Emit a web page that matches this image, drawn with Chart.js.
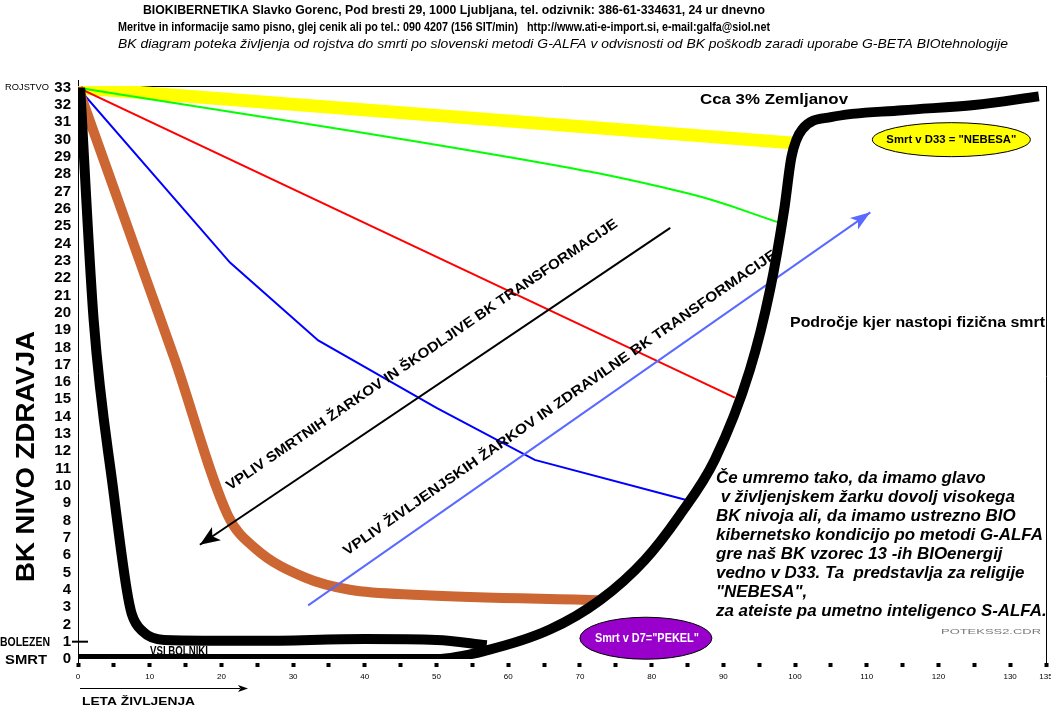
<!DOCTYPE html>
<html>
<head>
<meta charset="utf-8">
<script src="https://cdn.jsdelivr.net/npm/chart.js@4.4.1/dist/chart.umd.min.js"></script>
<style>
  html, body { margin: 0; padding: 0; background: #fff; overflow: hidden; }
  #wrap { position: relative; width: 1051px; height: 708px; }
</style>
</head>
<body>
<div id="wrap"><canvas id="bkChart" width="1051" height="708"></canvas></div>
<script>
// BK diagram (x = leta življenja, y = BK nivo)
const levelTicks = Array.from({length: 34}, (_, i) => i);

const yellowYears = [0, 100];
const yellowLevels = [33, 29.8];

const greenYears = [0, 60, 85, 98.6];
const greenLevels = [33, 29, 26.9, 25.1];

const redYears = [0, 91.6];
const redLevels = [33, 15.1];

const blueYears = [0, 21.2, 33.5, 50, 63.7, 84.7];
const blueLevels = [33, 22.9, 18.4, 14.5, 11.5, 9.2];

const brownYears = [0, 9.8, 13.5, 20.9, 24.7, 31.7, 37.9, 47.7, 72.8];
const brownLevels = [33, 21.6, 17.3, 8.3, 6.4, 4.7, 4.0, 3.7, 3.4];

// "VSI BOLNIKI" curve
const sickYears = [0.3, 2.2, 5, 6.8, 7.5, 9, 12, 25, 40, 50, 57];
const sickLevels = [33, 19.5, 9.5, 4, 2.6, 1.6, 1.1, 1.05, 1.15, 1.1, 0.8];

// fizična smrt curve
const deathYears = [0, 50, 57, 65.8, 72.8, 79, 83.9, 88.8, 93.7, 96.5, 98.5, 99.5, 101, 105, 115, 125, 134];
const deathLevels = [0, 0, 0.5, 1.7, 3.4, 5.7, 8.3, 11.5, 16.7, 21.3, 26, 29, 30.6, 31.3, 31.7, 32, 32.5];

// arrows (start -> head)
const deathRayYears = [82.6, 17];
const deathRayLevels = [24.9, 6.6];
const lifeRayYears = [32.1, 110.5];
const lifeRayLevels = [3.1, 25.8];

const toPoints = (xs, ys) => xs.map((x, i) => ({x: x, y: ys[i]}));

const FONT = "'Liberation Sans', Arial, sans-serif";

const paragraph = [
  'Če umremo tako, da imamo glavo',
  ' v življenjskem žarku dovolj visokega',
  'BK nivoja ali, da imamo ustrezno BIO',
  'kibernetsko kondicijo po metodi G-ALFA',
  'gre naš BK vzorec 13 -ih BIOenergij',
  'vedno v D33. Ta  predstavlja za religije',
  '"NEBESA",',
  'za ateiste pa umetno inteligenco S-ALFA.'
];

// draw text stretched/squeezed to an exact width
function fitText(ctx, s, x, y, w, font, color, baseline) {
  ctx.save();
  ctx.font = font;
  ctx.fillStyle = color || '#000';
  ctx.textBaseline = baseline || 'middle';
  ctx.textAlign = 'left';
  const nat = ctx.measureText(s).width;
  ctx.translate(x, y);
  ctx.scale(w / nat, 1);
  ctx.fillText(s, 0, 0);
  ctx.restore();
}

function arrowHead(ctx, x1, y1, x2, y2, len, half, color) {
  const a = Math.atan2(y2 - y1, x2 - x1);
  ctx.save();
  ctx.fillStyle = color;
  ctx.translate(x2, y2);
  ctx.rotate(a);
  ctx.beginPath();
  ctx.moveTo(0, 0);
  ctx.lineTo(-len, -half);
  ctx.lineTo(-len * 0.75, 0);
  ctx.lineTo(-len, half);
  ctx.closePath();
  ctx.fill();
  ctx.restore();
}

const deco = {
  id: 'deco',
  beforeDatasetsDraw(chart) {
    const {ctx, chartArea: a} = chart;
    ctx.save();
    ctx.strokeStyle = '#000';
    ctx.lineWidth = 1;
    ctx.beginPath();
    ctx.moveTo(a.left + 0.5, a.top - 6); ctx.lineTo(a.left + 0.5, a.bottom + 8);
    ctx.moveTo(a.left, a.top + 0.5); ctx.lineTo(a.right + 0.5, a.top + 0.5);
    ctx.moveTo(a.right + 0.5, a.top); ctx.lineTo(a.right + 0.5, a.bottom + 8);
    ctx.stroke();
    ctx.restore();
  },
  afterDatasetsDraw(chart) {
    const {ctx} = chart;
    const xs = chart.scales.x, ys = chart.scales.y;
    const px = v => xs.getPixelForValue(v), py = v => ys.getPixelForValue(v);

    // arrow heads
    arrowHead(ctx, px(deathRayYears[0]), py(deathRayLevels[0]), px(deathRayYears[1]), py(deathRayLevels[1]), 20, 8, '#000');
    arrowHead(ctx, px(lifeRayYears[0]), py(lifeRayLevels[0]), px(lifeRayYears[1]), py(lifeRayLevels[1]), 20, 7, '#5a6aff');

    // rotated ray labels
    ctx.save();
    ctx.translate(422, 355);
    ctx.rotate(-34.3 * Math.PI / 180);
    fitText(ctx, 'VPLIV SMRTNIH ŽARKOV IN ŠKODLJIVE BK TRANSFORMACIJE', -235, 0, 470, 'bold 14px ' + FONT, '#000');
    ctx.restore();
    ctx.save();
    ctx.translate(560, 403);
    ctx.rotate(-34.8 * Math.PI / 180);
    fitText(ctx, 'VPLIV ŽIVLJENJSKIH ŽARKOV IN ZDRAVILNE BK TRANSFORMACIJE', -262, 0, 524, 'bold 14px ' + FONT, '#000');
    ctx.restore();

    // ellipses
    ctx.save();
    ctx.lineWidth = 1;
    ctx.strokeStyle = '#000';
    ctx.fillStyle = '#ffff00';
    ctx.beginPath();
    ctx.ellipse(px(121.8), py(30.0), 79, 17, 0, 0, Math.PI * 2);
    ctx.fill(); ctx.stroke();
    ctx.fillStyle = '#9900cc';
    ctx.beginPath();
    ctx.ellipse(px(79.2), py(1.2), 66, 21, 0, 0, Math.PI * 2);
    ctx.fill(); ctx.stroke();
    ctx.restore();
    fitText(ctx, 'Smrt v D33 = "NEBESA"', px(121.8) - 65, py(30.0), 130, 'bold 11px ' + FONT, '#000');
    fitText(ctx, 'Smrt v D7="PEKEL"', px(79.2) - 51, py(1.2), 104, 'bold 12px ' + FONT, '#fff');

    // annotations
    fitText(ctx, 'Cca 3% Zemljanov', 700, 100, 148, 'bold 14px ' + FONT, '#000');
    fitText(ctx, 'Področje kjer nastopi fizična smrt', 790, 323, 255, 'bold 14px ' + FONT, '#000');
    fitText(ctx, 'VSI BOLNIKI', 150, 651, 58, 'bold 13px ' + FONT, '#000');
    fitText(ctx, 'POTEKSS2.CDR', 941, 632, 100, '8px ' + FONT, '#777');

    // paragraph, one font size so the widest line fits
    ctx.save();
    ctx.font = 'italic bold 16px ' + FONT;
    const fs = 16 * 327 / ctx.measureText(paragraph[3]).width;
    ctx.font = 'italic bold ' + fs.toFixed(2) + 'px ' + FONT;
    ctx.fillStyle = '#000';
    ctx.textBaseline = 'middle';
    paragraph.forEach((s, i) => ctx.fillText(s, 716, 478 + i * 19));
    ctx.restore();

    // y side labels
    fitText(ctx, 'ROJSTVO', 5, py(33), 44, '9px ' + FONT, '#000');
    fitText(ctx, 'BOLEZEN', 0, py(1) + 1, 50, 'bold 12px ' + FONT, '#000');
    fitText(ctx, 'SMRT', 5, py(0) + 1, 42, 'bold 13px ' + FONT, '#000');
    ctx.save();
    ctx.strokeStyle = '#000';
    ctx.lineWidth = 2;
    ctx.beginPath();
    ctx.moveTo(72, py(1)); ctx.lineTo(88, py(1));
    ctx.stroke();
    ctx.restore();

    // y title
    ctx.save();
    ctx.translate(34, 457);
    ctx.rotate(-Math.PI / 2);
    fitText(ctx, 'BK NIVO ZDRAVJA', -125, 0, 251, 'bold 26px ' + FONT, '#000', 'alphabetic');
    ctx.restore();

    // x title with arrow
    ctx.save();
    ctx.strokeStyle = '#000';
    ctx.lineWidth = 1;
    ctx.beginPath();
    ctx.moveTo(80, 688.5); ctx.lineTo(240, 688.5);
    ctx.stroke();
    arrowHead(ctx, 80, 688.5, 248, 688.5, 10, 3.5, '#000');
    ctx.restore();
    fitText(ctx, 'LETA ŽIVLJENJA', 82, 702, 113, 'bold 11px ' + FONT, '#000');

    // header
    fitText(ctx, 'BIOKIBERNETIKA Slavko Gorenc, Pod bresti 29, 1000 Ljubljana, tel. odzivnik: 386-61-334631, 24 ur dnevno', 143, 11, 622, 'bold 12px ' + FONT, '#000');
    fitText(ctx, 'Meritve in informacije samo pisno, glej cenik ali po tel.: 090 4207 (156 SIT/min)   http://www.ati-e-import.si, e-mail:galfa@siol.net', 118, 28, 652, 'bold 12px ' + FONT, '#000');
    fitText(ctx, 'BK diagram poteka življenja od rojstva do smrti po slovenski metodi G-ALFA v odvisnosti od BK poškodb zaradi uporabe G-BETA BIOtehnologije', 118, 45, 890, 'italic 12px ' + FONT, '#000');
  }
};

const ds = (xs, ys, color, width, order, extra) => Object.assign({
  data: toPoints(xs, ys),
  borderColor: color,
  borderWidth: width,
  pointRadius: 0,
  fill: false,
  tension: 0,
  order: order
}, extra || {});

new Chart(document.getElementById('bkChart'), {
  type: 'line',
  data: {
    datasets: [
      ds(yellowYears, yellowLevels, '#ffff00', 13, 9, {borderCapStyle: 'butt'}),
      ds(greenYears, greenLevels, '#00ff00', 2, 8, {tension: 0.4}),
      ds(redYears, redLevels, '#ff0000', 2, 7),
      ds(blueYears, blueLevels, '#0000ff', 2, 6),
      ds(brownYears, brownLevels, '#cc6633', 10, 5, {cubicInterpolationMode: 'monotone'}),
      ds(lifeRayYears, lifeRayLevels, '#5a6aff', 2, 4),
      ds(deathRayYears, deathRayLevels, '#000000', 2, 3),
      ds(sickYears, sickLevels, '#000000', 10, 2, {cubicInterpolationMode: 'monotone'}),
      ds(deathYears, deathLevels, '#000000', 10, 1, {cubicInterpolationMode: 'monotone'})
    ]
  },
  options: {
    responsive: false,
    animation: false,
    layout: {padding: {top: 86, right: 5, left: 0, bottom: 0}},
    plugins: {legend: {display: false}, tooltip: {enabled: false}},
    scales: {
      x: {
        type: 'linear',
        min: 0,
        max: 135,
        ticks: {
          stepSize: 5,
          autoSkip: false,
          maxRotation: 0,
          padding: 5,
          color: '#000',
          font: {size: 8, family: FONT},
          callback: v => (v % 10 === 0 || v === 135) ? String(v) : ''
        },
        grid: {
          drawOnChartArea: false,
          drawTicks: true,
          tickLength: 8,
          tickWidth: 4,
          tickColor: '#000',
          tickBorderDash: [4, 4],
          tickBorderDashOffset: 4
        },
        border: {display: false},
        afterFit(s) { s.height = 49; s.paddingLeft = 0; s.paddingRight = 0; }
      },
      y: {
        type: 'linear',
        min: 0,
        max: 33.1,
        afterBuildTicks(s) { s.ticks = levelTicks.map(v => ({value: v})); },
        ticks: {
          autoSkip: false,
          padding: 7,
          color: '#000',
          font: {size: 15, weight: 'bold', family: FONT}
        },
        grid: {display: false, drawTicks: false},
        border: {display: false},
        afterFit(s) { s.width = 78; s.paddingTop = 0; s.paddingBottom = 0; }
      }
    }
  },
  plugins: [deco]
});
</script>
</body>
</html>
